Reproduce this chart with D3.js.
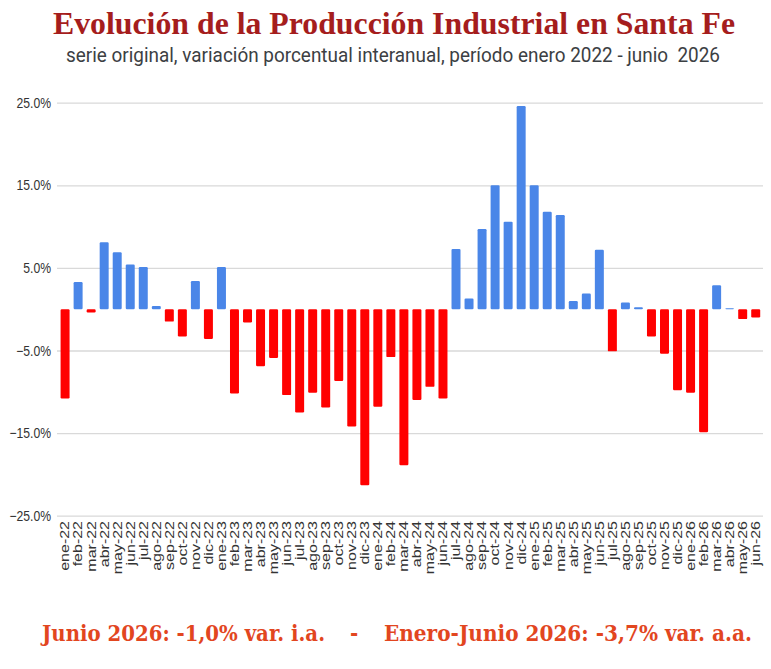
<!DOCTYPE html>
<html>
<head>
<meta charset="utf-8">
<script src="https://cdn.jsdelivr.net/npm/d3@7"></script>
<style>
body { margin: 0; background: #fff; }
</style>
</head>
<body>
<div id="chart"></div>
<script>
// chart data
var periods = [
	"ene-22","feb-22","mar-22","abr-22","may-22","jun-22","jul-22","ago-22","sep-22","oct-22","nov-22","dic-22",
	"ene-23","feb-23","mar-23","abr-23","may-23","jun-23","jul-23","ago-23","sep-23","oct-23","nov-23","dic-23",
	"ene-24","feb-24","mar-24","abr-24","may-24","jun-24","jul-24","ago-24","sep-24","oct-24","nov-24","dic-24",
	"ene-25","feb-25","mar-25","abr-25","may-25","jun-25","jul-25","ago-25","sep-25","oct-25","nov-25","dic-25",
	"ene-26","feb-26","mar-26","abr-26","may-26","jun-26"
];
var variation = [
	-10.8, 3.3, -0.4, 8.1, 6.9, 5.4, 5.1, 0.4, -1.5, -3.3, 3.4, -3.6,
	5.1, -10.2, -1.6, -6.9, -5.9, -10.4, -12.5, -10.1, -11.9, -8.7, -14.2, -21.3,
	-11.8, -5.8, -18.9, -11.0, -9.4, -10.8, 7.3, 1.3, 9.7, 15.0, 10.6, 24.6,
	15.0, 11.8, 11.4, 1.0, 1.9, 7.2, -5.1, 0.8, 0.25, -3.3, -5.4, -9.8,
	-10.1, -14.9, 2.9, 0.1, -1.2, -1.0
];
var yTicks = [-25, -15, -5, 5, 15, 25];

var title = "Evolución de la Producción Industrial en Santa Fe";
var subtitle = "serie original, variación porcentual interanual, período enero 2022 - junio  2026";
var footerParts = ["Junio 2026: -1,0% var. i.a.", "-", "Enero-Junio 2026: -3,7% var. a.a."];

var width = 771;
var height = 669;

var svg = d3.select("#chart")
			.append("svg")
			.attr("width",width)
			.attr("height",height);

var xscale = d3.scaleBand().domain(periods).range([58.5,762.3]).paddingInner(0.31).paddingOuter(0.16);
var yscale = d3.scaleLinear().domain([-25,25]).range([515.7,102.7]);

//Gridlines and y labels
var yaxis = d3.axisLeft().scale(yscale)
	.tickValues(yTicks)
	.tickSize(-(763 - 57))
	.tickFormat(function(d) { return d3.format(".1f")(d) + "%"; });

var gy = svg.append("g").attr("class","yaxis").attr("transform","translate(57,0)").call(yaxis);
gy.select(".domain").remove();
gy.selectAll(".tick line").attr("stroke","#d9d9d9").attr("stroke-width",1.3);
// narrow labels, right aligned just left of the gridlines
gy.selectAll(".tick text")
	.attr("fill","#333")
	.attr("font-family","Liberation Sans, Arial, sans-serif")
	.attr("font-size",14.5)
	.attr("x",0)
	.attr("transform","translate(-6,0) scale(0.84,1)");

//Bars
svg.append("g").selectAll("rect")
	.data(variation)
	.enter().append("rect")
		.attr("x",function(d,i) { return xscale(periods[i]); })
		.attr("y",function(d) { return yscale(Math.max(0,d)); })
		.attr("width",xscale.bandwidth())
		.attr("height",function(d) { return Math.abs(yscale(d) - yscale(0)); })
		.attr("rx",1.2)
		.attr("fill",function(d) { return d >= 0 ? "#4a86e8" : "#ff0000"; });

//X labels, rotated
var xaxis = d3.axisBottom().scale(xscale).tickSize(0).tickPadding(0);
var gx = svg.append("g").attr("class","xaxis").attr("transform","translate(0,521)").call(xaxis);
gx.select(".domain").remove();
gx.selectAll(".tick text")
	.attr("fill","#333")
	.attr("font-family","Liberation Sans, Arial, sans-serif")
	.attr("font-size",12.5)
	.attr("text-anchor","end")
	.attr("dy","0.35em")
	.attr("y",0)
	.attr("transform","rotate(-90) scale(1.28,1)");

//Title texts
svg.append("text")
	.attr("x",394).attr("y",34)
	.attr("text-anchor","middle")
	.attr("font-family","Liberation Serif, serif")
	.attr("font-weight","bold")
	.attr("font-size",31)
	.attr("fill","#a51d1d")
	.attr("textLength",682).attr("lengthAdjust","spacingAndGlyphs")
	.text(title);

svg.append("text")
	.attr("x",393).attr("y",62)
	.attr("text-anchor","middle")
	.attr("font-family","Roboto, sans-serif")
	.attr("font-size",19.5)
	.attr("fill","#3c4043")
	.attr("textLength",654).attr("lengthAdjust","spacingAndGlyphs")
	.style("white-space","pre")
	.text(subtitle);

//Footer, in three pieces: left text, dash, right text
var footerX = [42, 350, 384];
var footerLen = [283, 0, 368];
svg.append("g").selectAll("text")
	.data(footerParts)
	.enter().append("text")
		.attr("x",function(d,i) { return footerX[i]; })
		.attr("y",641)
		.attr("font-family","DejaVu Serif Condensed, DejaVu Serif, serif")
		.attr("font-weight","bold")
		.attr("font-size",22)
		.attr("fill","#e2461f")
		.each(function(d,i) {
			if(footerLen[i] > 0){
				d3.select(this).attr("textLength",footerLen[i]).attr("lengthAdjust","spacingAndGlyphs");
			}
		})
		.text(function(d) { return d; });
</script>
</body>
</html>
